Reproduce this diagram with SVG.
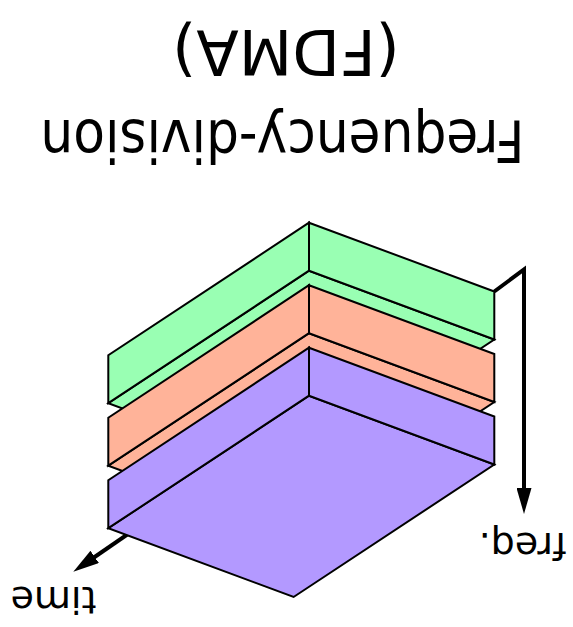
<svg xmlns="http://www.w3.org/2000/svg" xmlns:xlink="http://www.w3.org/1999/xlink" width="573" height="627" viewBox="0 0 573 627">
<style>
.face{stroke:#000;stroke-width:2;stroke-linejoin:miter}
.green{fill:#99ffb3}
.orange{fill:#ffb399}
.purple{fill:#b399ff}
.axis{fill:none;stroke:#000;stroke-width:4;stroke-linejoin:miter}
.lbl{font-family:"DejaVu Sans","Liberation Sans",sans-serif;fill:#000}
</style>
<defs>
<marker id="arrow" viewBox="0 0 26 15" refX="1" refY="7.5" markerWidth="26" markerHeight="15" markerUnits="userSpaceOnUse" orient="auto">
<path d="M0,0 L26,7.5 L0,15 z" fill="#000"/>
</marker>
<g id="slab">
<polygon class="face" points="309,270.7 108.3,403.2 293.6,472 494.3,339.5"/>
<polygon class="face" points="309,222.7 108.3,355.2 108.3,403.2 309,270.7"/>
<polygon class="face" points="309,222.7 494.3,291.5 494.3,339.5 309,270.7"/>
</g>
</defs>
<g id="connectors">
<path class="axis" d="M494.3,291.5 L524,269.5 L524,489" marker-end="url(#arrow)"/>
<path class="axis" d="M159.8,512.2 L93.9,557.5" marker-end="url(#arrow)"/>
</g>
<g id="slab-green"><use xlink:href="#slab" class="green"/></g>
<g id="slab-orange"><use xlink:href="#slab" class="orange" y="62.5"/></g>
<g id="slab-purple"><use xlink:href="#slab" class="purple" y="125"/></g>
<g id="title">
<text class="lbl" x="282.5" y="120" font-size="59" text-anchor="middle" textLength="484" lengthAdjust="spacingAndGlyphs" transform="rotate(180 282.5 120)">Frequency-division</text>
<text class="lbl" x="286" y="30" font-size="62" text-anchor="middle" transform="rotate(180 286 30)">(FDMA)</text>
</g>
<g id="label-time"><text class="lbl" x="53.5" y="587" font-size="38" text-anchor="middle" transform="rotate(180 53.5 587)">time</text></g>
<g id="label-freq"><text class="lbl" x="522.5" y="533" font-size="38" text-anchor="middle" transform="rotate(180 522.5 533)">freq.</text></g>
</svg>
